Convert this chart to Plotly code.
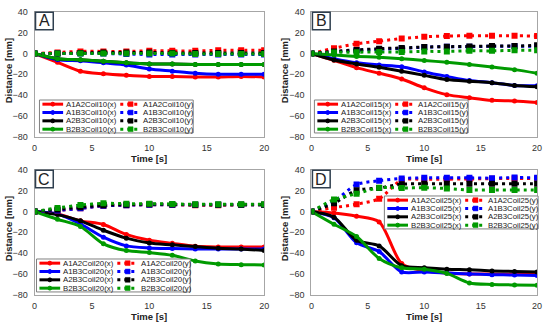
import plotly.graph_objects as go

W, H = 550, 327

# ---------------- data ----------------
time_s = [0, 2, 4, 6, 8, 10, 12, 14, 16, 18, 20]
pair_names = ["A1A2", "A1B3", "A2B3", "B2B3"]
panel_letters = ["A", "B", "C", "D"]
coils = ["10", "15", "20", "25"]
x_ticks = [0, 5, 10, 15, 20]
y_ticks = [-80, -60, -40, -20, 0, 20, 40]

# Panel A (Coil10)
c10_A1A2_x = [0, -8.5, -17, -19.5, -21, -22, -22, -22.5, -22.5, -22, -22.5]
c10_A1B3_x = [0, -6, -7, -9, -11, -15, -17, -19, -20, -20, -20]
c10_A2B3_x = [0, -5, -6, -7.5, -9, -10, -10, -10.5, -10.5, -10.5, -10.5]
c10_B2B3_x = [0, -5, -6, -7.5, -9, -10, -10, -10.5, -10.5, -10.5, -10.5]
c10_A1A2_y = [0, 1, 2, 2, 2, 2.5, 2.5, 2.5, 3, 3, 3]
c10_A1B3_y = [0, 0, 0, 0, -0.5, -1, -1, -1, -1, -1, -1]
c10_A2B3_y = [0, 0, 0.5, 1, 1, 1, 0.5, 0.5, 0.5, 0.5, 0.5]
c10_B2B3_y = [0, 0, 0, 0, 0, 0, 0, -0.5, -0.5, -0.5, -0.5]

# Panel B (Coil15)
c15_A1A2_x = [0, -6.5, -13.6, -19, -24.5, -33, -39.5, -42.5, -45, -45.5, -47]
c15_A1B3_x = [0, -5, -9, -11, -12.7, -17.7, -22, -26, -28, -30.7, -31]
c15_A2B3_x = [0, -6.2, -10, -13.3, -17, -21, -25, -26.7, -28, -30.7, -32]
c15_B2B3_x = [0, -1.5, -2.8, -3.7, -5, -6.8, -8.4, -10.5, -13, -15.5, -19]
c15_A1A2_y = [0, 5, 9.3, 11.8, 14.3, 16, 16.7, 17, 17, 17, 16.7]
c15_A1B3_y = [0, 1.5, 3, 4, 5, 6, 6.5, 6.5, 7, 7, 7]
c15_A2B3_y = [0, 2, 3.4, 4.6, 5.3, 6.2, 6.5, 6.8, 7.1, 7.1, 7.8]
c15_B2B3_y = [0, 1, 1.2, 1.5, 1.5, 2, 2, 2.5, 2.5, 3, 3]

# Panel C (Coil20)
c20_A1A2_x = [0, -2.5, -9, -12.5, -22, -27.5, -30.6, -33.4, -34, -34, -34]
c20_A1B3_x = [0, -2.5, -12, -24.7, -33, -35, -35.6, -36, -36, -36, -36]
c20_A2B3_x = [0, -3, -9, -18, -25.6, -30.3, -32, -33.7, -35.3, -36, -37.5]
c20_B2B3_x = [0, -7.5, -14.4, -31, -37.5, -39.4, -42, -47.5, -50.3, -51, -51.3]
c20_A1A2_y = [0, 1, 3, 5.6, 6, 6.5, 6.5, 6, 6, 6.5, 6.5]
c20_A1B3_y = [0, 1, 3, 5.5, 6, 6.5, 6.5, 6.5, 6.5, 6.5, 6.5]
c20_A2B3_y = [0, 2, 4, 6, 6.5, 7, 6.8, 6.5, 6.5, 6.5, 6.5]
c20_B2B3_y = [0, 3.4, 6.2, 7.8, 7.5, 7.5, 7.2, 6.9, 6.9, 6.9, 6.9]

# Panel D (Coil25)
c25_A1A2_x = [0, -1.5, -4.6, -10, -50, -57, -59, -60, -60, -60.3, -60.3]
c25_A1B3_x = [0, -6, -30, -38.5, -58, -58, -59, -60, -60.6, -61, -61.5]
c25_A2B3_x = [0, -5.5, -27.7, -33, -52, -54, -55.4, -56, -57, -57.5, -58]
c25_B2B3_x = [0, -12.3, -24, -45, -54, -55.4, -59.4, -68.6, -70, -70.5, -70.8]
c25_A1A2_y = [0, 3.7, 7, 12.3, 30.2, 30.8, 31, 31.2, 31.5, 31.7, 31.7]
c25_A1B3_y = [0, 9.8, 25.8, 29.5, 31.7, 32.3, 32.3, 32.3, 32, 32.6, 32.3]
c25_A2B3_y = [0, 8, 20.3, 22.5, 26.2, 26.5, 26.5, 26.5, 26.5, 26.5, 26.5]
c25_B2B3_y = [0, 11.4, 17, 22.8, 22.5, 22.8, 22, 20.6, 20.6, 20.6, 20.6]

panel_x = [
    [c10_A1A2_x, c10_A1B3_x, c10_A2B3_x, c10_B2B3_x],
    [c15_A1A2_x, c15_A1B3_x, c15_A2B3_x, c15_B2B3_x],
    [c20_A1A2_x, c20_A1B3_x, c20_A2B3_x, c20_B2B3_x],
    [c25_A1A2_x, c25_A1B3_x, c25_A2B3_x, c25_B2B3_x],
]
panel_y = [
    [c10_A1A2_y, c10_A1B3_y, c10_A2B3_y, c10_B2B3_y],
    [c15_A1A2_y, c15_A1B3_y, c15_A2B3_y, c15_B2B3_y],
    [c20_A1A2_y, c20_A1B3_y, c20_A2B3_y, c20_B2B3_y],
    [c25_A1A2_y, c25_A1B3_y, c25_A2B3_y, c25_B2B3_y],
]

# ---------------- styling ----------------
colors = ["#FF0000", "#0000FF", "#000000", "#009A00"]
FONT = "Liberation Sans, Arial, sans-serif"
frame_col = "#A6A6A6"

# plot areas in pixels: (left, right, top, bottom)
areas = [(32, 265, 7, 136), (313, 542, 7, 136), (32, 265, 170, 299), (313, 542, 170, 299)]
# legend boxes in pixels: (left, top)
legend_pos = [(37, 98), (316, 98), (34, 262), (387, 197)]
LEG_W, LEG_H = 156, 34


def px(x):
    return x / W


def py(y):
    return 1 - y / H


fig = go.Figure()
shapes = []
annotations = []

for i in range(4):
    sfx = "" if i == 0 else str(i + 1)
    xa, ya = "x" + sfx, "y" + sfx
    # x-series (solid) then y-series (dotted)
    for j in range(4):
        fig.add_trace(go.Scatter(
            x=time_s, y=panel_x[i][j], xaxis=xa, yaxis=ya, mode="lines+markers",
            line=dict(color=colors[j], width=3, shape="spline", smoothing=0.8),
            marker=dict(symbol="circle", size=5, color=colors[j]),
            name=f"{pair_names[j]}Coil{coils[i]}(x)", showlegend=False))
    for j in range(4):
        fig.add_trace(go.Scatter(
            x=time_s, y=panel_y[i][j], xaxis=xa, yaxis=ya, mode="lines+markers",
            line=dict(color=colors[j], width=3, dash="3px,4px", shape="spline", smoothing=0.8),
            marker=dict(symbol="square", size=6, color=colors[j]),
            name=f"{pair_names[j]}Coil{coils[i]}(y)", showlegend=False))

    l, r, t, b = areas[i]
    axcommon = dict(showgrid=False, zeroline=False, showline=True, linecolor=frame_col,
                    linewidth=1, mirror=True, ticks="", fixedrange=True,
                    tickfont=dict(family=FONT, size=9, color="#333333"))
    fig.layout["xaxis" + sfx] = dict(axcommon, domain=[px(l), px(r)], range=[0, 20],
                                     tickvals=x_ticks, anchor=ya, ticklabelstandoff=2)
    fig.layout["yaxis" + sfx] = dict(axcommon, domain=[py(b), py(t)], range=[-80, 40],
                                     tickvals=y_ticks, anchor=xa, ticklabelstandoff=4)

    # axis titles
    annotations.append(dict(text="<b>Time [s]</b>", x=px((l + r) / 2), y=py(b + 22.5), xref="paper",
                            yref="paper", showarrow=False, xanchor="center", yanchor="middle",
                            font=dict(family=FONT, size=9.5, color="#222222")))
    annotations.append(dict(text="<b>Distance [mm]</b>", x=px(l - 26 if i % 2 == 0 else l - 27),
                            y=py((t + b) / 2 - 4), xref="paper", yref="paper", showarrow=False,
                            textangle=-90, xanchor="center", yanchor="middle",
                            font=dict(family=FONT, size=9.5, color="#222222")))

    # panel letter box
    shapes.append(dict(type="rect", xref="paper", yref="paper", x0=px(l + 1), x1=px(l + 19),
                       y0=py(t + 0.5), y1=py(t + 18.5), line=dict(color="#2F3F4F", width=1.5),
                       fillcolor="white", layer="above"))
    annotations.append(dict(text=panel_letters[i], x=px(l + 10), y=py(t + 9.5), xref="paper",
                            yref="paper", showarrow=False, xanchor="center", yanchor="middle",
                            font=dict(family=FONT, size=16, color="#222222")))

    # legend (drawn manually so rows are tightly packed as in the original)
    L, T = legend_pos[i]
    shapes.append(dict(type="rect", xref="paper", yref="paper", x0=px(L), x1=px(L + LEG_W),
                       y0=py(T), y1=py(T + LEG_H), line=dict(color="#808080", width=1),
                       fillcolor="white", layer="above"))
    for j in range(4):
        yy = T + 4.3 + j * 8.6
        # solid entry
        shapes.append(dict(type="line", xref="paper", yref="paper", x0=px(L + 3), x1=px(L + 24),
                           y0=py(yy), y1=py(yy), line=dict(color=colors[j], width=3), layer="above"))
        shapes.append(dict(type="circle", xref="paper", yref="paper", x0=px(L + 11.5), x1=px(L + 15.5),
                           y0=py(yy - 2), y1=py(yy + 2), line=dict(color=colors[j], width=1),
                           fillcolor=colors[j], layer="above"))
        annotations.append(dict(text=f"{pair_names[j]}Coil{coils[i]}(x)", x=px(L + 25), y=py(yy),
                                xref="paper", yref="paper", showarrow=False, xanchor="left",
                                yanchor="middle", font=dict(family=FONT, size=7.8, color="#222222")))
        # dotted entry
        shapes.append(dict(type="line", xref="paper", yref="paper", x0=px(L + 82), x1=px(L + 103),
                           y0=py(yy), y1=py(yy), line=dict(color=colors[j], width=3, dash="3px,4px"),
                           layer="above"))
        shapes.append(dict(type="rect", xref="paper", yref="paper", x0=px(L + 90), x1=px(L + 95),
                           y0=py(yy - 2.5), y1=py(yy + 2.5), line=dict(color=colors[j], width=0.5),
                           fillcolor=colors[j], layer="above"))
        annotations.append(dict(text=f"{pair_names[j]}Coil{coils[i]}(y)", x=px(L + 103.5), y=py(yy),
                                xref="paper", yref="paper", showarrow=False, xanchor="left",
                                yanchor="middle", font=dict(family=FONT, size=7.8, color="#222222")))

fig.update_layout(
    width=W, height=H, autosize=False,
    margin=dict(l=0, r=0, t=0, b=0, pad=0),
    paper_bgcolor="white", plot_bgcolor="white",
    showlegend=False,
    shapes=shapes, annotations=annotations,
    font=dict(family=FONT),
)

fig.write_html("out.html", config={"displayModeBar": False, "staticPlot": True},
               post_script="document.body.style.margin='0';document.body.style.overflow='hidden';")
